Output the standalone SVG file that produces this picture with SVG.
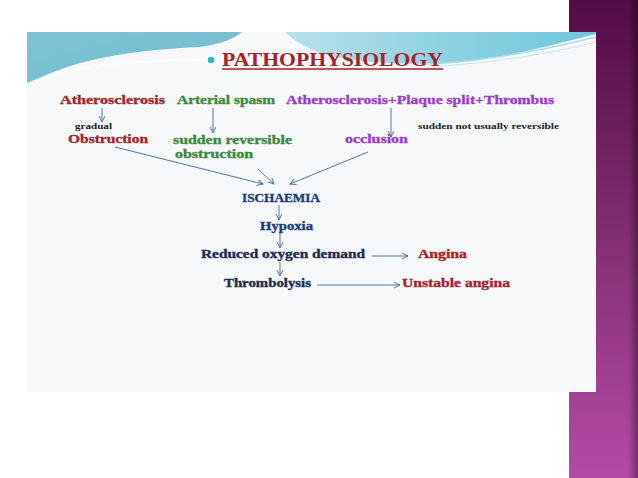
<svg xmlns="http://www.w3.org/2000/svg" width="638" height="478" viewBox="0 0 638 478">
<defs>
<linearGradient id="purp" x1="0" y1="0" x2="0" y2="1">
<stop offset="0" stop-color="#520c44"/>
<stop offset="0.5" stop-color="#822f72"/>
<stop offset="1" stop-color="#b44aa6"/>
</linearGradient>
<linearGradient id="edge" x1="0" y1="0" x2="1" y2="0">
<stop offset="0" stop-color="#000" stop-opacity="0"/>
<stop offset="1" stop-color="#000" stop-opacity="0.35"/>
</linearGradient>
<linearGradient id="tealL" x1="0" y1="0" x2="1" y2="1">
<stop offset="0" stop-color="#7fc2d2"/>
<stop offset="0.6" stop-color="#74c0d2"/>
<stop offset="1" stop-color="#5ed2e2"/>
</linearGradient>
<linearGradient id="tealR" x1="0" y1="0" x2="1" y2="0">
<stop offset="0" stop-color="#b8e2ea"/>
<stop offset="0.5" stop-color="#8fd2e0"/>
<stop offset="1" stop-color="#6fc6dc"/>
</linearGradient>
<marker id="ah" markerWidth="8" markerHeight="8" refX="6" refY="3" orient="auto" markerUnits="userSpaceOnUse">
<path d="M0,0 L6,3 L0,6" fill="none" stroke="#4a78a6" stroke-width="1"/>
</marker>
<style>
.t{font-family:"Liberation Serif","DejaVu Serif",serif;font-weight:bold;stroke-width:0.35}
.red{fill:#a3262e;stroke:#a3262e}
.grn{fill:#3b8a3b;stroke:#3b8a3b}
.pur{fill:#9a3ccc;stroke:#9a3ccc}
.blk{fill:#222;stroke:none}
.blu{fill:#1e3c78;stroke:#1e3c78}
.nav{fill:#1b2d4f;stroke:#1b2d4f}
.c{stroke:#4a78a6;stroke-width:1;fill:none;marker-end:url(#ah)}
</style>
</defs>
<rect width="638" height="478" fill="#ffffff"/>
<rect x="569" y="0" width="69" height="478" fill="url(#purp)"/>
<rect x="628" y="0" width="10" height="478" fill="url(#edge)"/>
<rect x="27" y="32" width="569" height="360" fill="#f7f8f9"/>
<path d="M27,32 H242 C235,38 222,44 200,47 C140,50 80,56 27,84 Z" fill="url(#tealL)"/>
<path d="M27,84 C70,66 130,60 211,60" fill="none" stroke="#ffffff" stroke-width="2" opacity="0.8"/>
<path d="M285,32 H596 V34 C570,40 520,55 470,61 C420,66 370,64 330,56 C310,50 295,42 285,32 Z" fill="url(#tealR)"/>
<path d="M430,64 C500,60 560,46 596,37" fill="none" stroke="#a8dde8" stroke-width="1.5"/>
<path d="M440,66 C505,62 565,50 596,42" fill="none" stroke="#c4e8ef" stroke-width="1"/>

<g id="title">
<circle cx="211" cy="60" r="3.2" fill="#2bb5c8"/>
<text class="t" x="222" y="66" font-size="19" textLength="221" lengthAdjust="spacingAndGlyphs" fill="#a3222c">PATHOPHYSIOLOGY</text>
<line x1="222" y1="69" x2="443" y2="69" stroke="#a3222c" stroke-width="1.5"/>
</g>

<g id="atherosclerosis"><text class="t red" x="60" y="104" font-size="13" textLength="105" lengthAdjust="spacingAndGlyphs">Atherosclerosis</text></g>
<g id="arterial-spasm"><text class="t grn" x="177" y="104" font-size="13" textLength="98" lengthAdjust="spacingAndGlyphs">Arterial spasm</text></g>
<g id="plaque"><text class="t pur" x="286" y="104" font-size="13" textLength="268" lengthAdjust="spacingAndGlyphs">Atherosclerosis+Plaque split+Thrombus</text></g>

<g id="gradual"><text class="t blk" x="75" y="129" font-size="8" textLength="37" lengthAdjust="spacingAndGlyphs">gradual</text></g>
<g id="obstruction"><text class="t red" x="68" y="143" font-size="13" textLength="80" lengthAdjust="spacingAndGlyphs">Obstruction</text></g>
<g id="sudden-reversible">
<text class="t grn" x="173" y="144" font-size="12" textLength="119" lengthAdjust="spacingAndGlyphs">sudden reversible</text>
<text class="t grn" x="175" y="157.5" font-size="12" textLength="78" lengthAdjust="spacingAndGlyphs">obstruction</text>
</g>
<g id="sudden-not"><text class="t blk" x="418" y="129" font-size="8" textLength="141" lengthAdjust="spacingAndGlyphs">sudden not usually reversible</text></g>
<g id="occlusion"><text class="t pur" x="345" y="143" font-size="13" textLength="63" lengthAdjust="spacingAndGlyphs">occlusion</text></g>

<g id="ischaemia"><text class="t blu" x="242" y="202" font-size="12" textLength="78" lengthAdjust="spacingAndGlyphs">ISCHAEMIA</text></g>
<g id="hypoxia"><text class="t blu" x="260" y="230" font-size="12" textLength="53" lengthAdjust="spacingAndGlyphs">Hypoxia</text></g>
<g id="reduced"><text class="t nav" x="201" y="258" font-size="12" textLength="164" lengthAdjust="spacingAndGlyphs">Reduced oxygen demand</text></g>
<g id="angina"><text class="t red" x="418" y="258" font-size="12" textLength="49" lengthAdjust="spacingAndGlyphs">Angina</text></g>
<g id="thrombolysis"><text class="t nav" x="224" y="287" font-size="12" textLength="87" lengthAdjust="spacingAndGlyphs">Thrombolysis</text></g>
<g id="unstable"><text class="t red" x="402" y="287" font-size="12" textLength="108" lengthAdjust="spacingAndGlyphs">Unstable angina</text></g>

<g id="connectors">
<line class="c" x1="102" y1="108" x2="102" y2="122"/>
<line class="c" x1="213" y1="108" x2="213" y2="133"/>
<line class="c" x1="391" y1="108" x2="391" y2="137"/>
<line class="c" x1="115" y1="147" x2="263" y2="184"/>
<line class="c" x1="258" y1="169" x2="274" y2="184"/>
<line class="c" x1="368" y1="152" x2="290" y2="184"/>
<line class="c" x1="279" y1="205" x2="279" y2="220"/>
<line class="c" x1="280" y1="233" x2="280" y2="248"/>
<line class="c" x1="372" y1="256" x2="408" y2="256"/>
<line class="c" x1="280" y1="262" x2="280" y2="276"/>
<line class="c" x1="317" y1="285" x2="400" y2="285"/>
</g>
</svg>
